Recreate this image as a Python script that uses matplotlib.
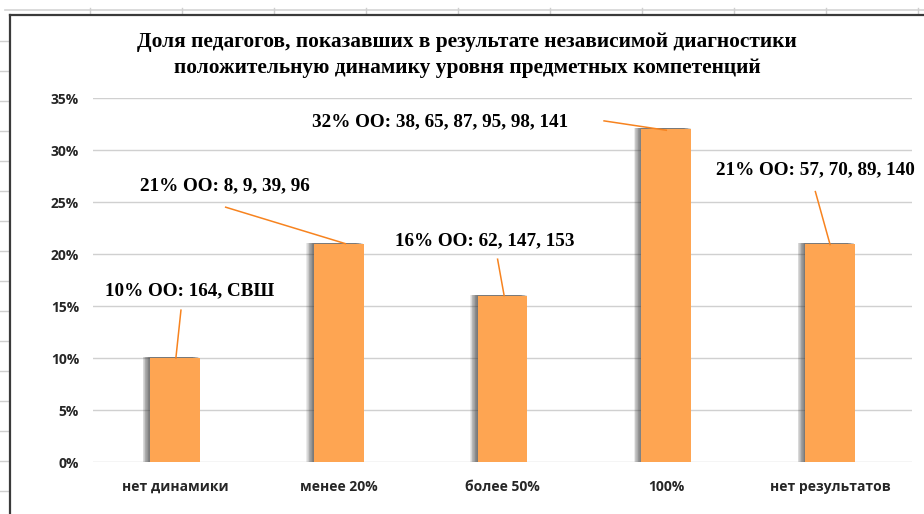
import matplotlib
matplotlib.use("Agg")
import matplotlib.pyplot as plt
from matplotlib.lines import Line2D

categories = ["нет динамики", "менее 20%", "более 50%", "100%", "нет результатов"]
values = [10, 21, 16, 32, 21]
labels = [
    "10% ОО: 164, СВШ",
    "21% ОО: 8, 9, 39, 96",
    "16% ОО: 62, 147, 153",
    "32% ОО: 38, 65, 87, 95, 98, 141",
    "21% ОО: 57, 70, 89, 140",
]
# положения подписей (центр текста) и начала выносок, в координатах данных
label_pos = [(0.09, 16.5), (0.305, 26.6), (1.89, 21.3), (1.62, 32.7), (3.91, 28.1)]
leader_start = [(0.037, 14.6), (0.31, 24.5), (1.97, 19.5), (2.62, 32.8), (3.91, 26.0)]
leader_end = [(0.006, 10.0), (1.04, 21.0), (2.01, 16.0), (3.0, 31.9), (4.0, 20.9)]
title = ("Доля педагогов, показавших в результате независимой диагностики\n"
         "положительную динамику уровня предметных компетенций")

W, H = 924, 514
fig = plt.figure(figsize=(W / 100, H / 100), dpi=100)
fig.patch.set_facecolor("white")

# фон листа Excel: линии сетки над диаграммой и слева
fig.add_artist(Line2D([5 / W, 1], [1 - 10 / H] * 2, transform=fig.transFigure,
                      color="#d4d4d4", lw=1.2))
for x in range(90, W, 92):
    fig.add_artist(Line2D([x / W] * 2, [1 - 8 / H, 1 - 14 / H], transform=fig.transFigure,
                          color="#cfcfcf", lw=1))
for y in range(41, H, 30):
    fig.add_artist(Line2D([0, 8 / W], [1 - y / H] * 2, transform=fig.transFigure,
                          color="#cfcfcf", lw=1))
# рамка диаграммы
fig.add_artist(Line2D([10 / W, 1], [1 - 15 / H] * 2, transform=fig.transFigure,
                      color="#3a3a3a", lw=1.6))
fig.add_artist(Line2D([10 / W] * 2, [0, 1 - 15 / H], transform=fig.transFigure,
                      color="#3a3a3a", lw=1.6))

ax = fig.add_axes([93 / W, 52 / H, (912 - 93) / W, 364 / H])
x = list(range(len(categories)))
bw = 0.305
# мягкая тень слева от столбцов
n_sh = 10
for k in range(n_sh):
    off = 0.045 * (n_sh - k) / n_sh
    ax.bar([i - off for i in x], [v + 0.1 for v in values], width=bw,
           color="#3c3c3c", alpha=0.1, zorder=2, linewidth=0)
ax.bar(x, values, width=bw, color="#fea552", zorder=3, linewidth=0)

ax.set_xlim(-0.5, len(categories) - 0.5)
ax.set_ylim(0, 35)
ax.set_yticks(range(0, 36, 5))
ax.set_yticklabels([f"{t}%" for t in range(0, 36, 5)])
ax.set_xticks(x)
ax.set_xticklabels(categories)
ax.grid(axis="y", color="#d0d0d0", lw=1, zorder=0)
for s in ax.spines.values():
    s.set_visible(False)
ax.tick_params(length=0, pad=10, labelsize=10, colors="#262626")
ax.tick_params(axis="x", pad=13)
for t in ax.get_xticklabels() + ax.get_yticklabels():
    t.set_fontfamily("Open Sans")
    t.set_fontweight("bold")

for lab, (tx, ty), (sx, sy), (ex, ey) in zip(labels, label_pos, leader_start, leader_end):
    ax.text(tx, ty, lab, ha="center", va="center", fontsize=13.8,
            family="Liberation Serif", fontweight="bold", color="black", zorder=5)
    ax.plot([sx, ex], [sy, ey], color="#f7831f", lw=1.1, zorder=4, clip_on=False)

fig.text(467 / W, 1 - 55 / H, title, ha="center", va="center", fontsize=15.4,
         family="Liberation Serif", fontweight="bold", linespacing=1.35)

fig.savefig("out.png", dpi=100)
